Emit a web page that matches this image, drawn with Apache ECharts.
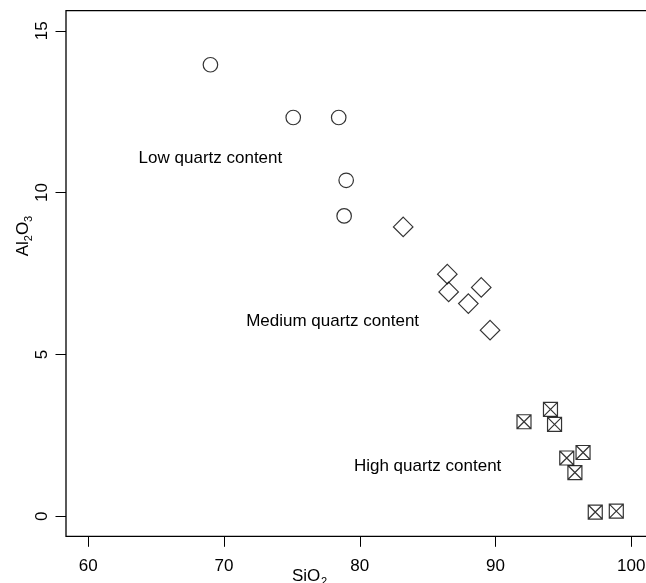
<!DOCTYPE html>
<html>
<head>
<meta charset="utf-8">
<script src="https://cdn.jsdelivr.net/npm/echarts@6/dist/echarts.min.js"></script>
<style>html,body{margin:0;padding:0;background:#fff}#c{width:646px;height:583px}</style>
</head>
<body>
<div id="c"></div>
<script>
// Low quartz content (circles)
const lowSiO2 = [69.0, 75.1, 78.45, 79.0, 78.85];
const lowAl2O3 = [13.95, 12.32, 12.32, 10.38, 9.28];
// Medium quartz content (diamonds)
const medSiO2 = [83.2, 86.45, 86.55, 88.95, 88.0, 89.6];
const medAl2O3 = [8.94, 7.48, 6.93, 7.07, 6.57, 5.75];
// High quartz content (crossed squares)
const highSiO2 = [92.1, 94.05, 94.35, 96.45, 95.25, 95.85, 97.35, 98.9];
const highAl2O3 = [2.92, 3.30, 2.84, 1.97, 1.80, 1.35, 0.13, 0.16];
// Annotations
const noteText = ["Low quartz content", "Medium quartz content", "High quartz content"];
const noteX = [69.0, 78.0, 85.0];
const noteY = [11.05, 6.02, 1.55];
// Tick labels
const xTicks = [60, 70, 80, 90, 100];
const yTicks = [0, 5, 10, 15];

const zip = (a, b) => a.map((v, i) => [v, b[i]]);
const FONT = '"Liberation Sans", Arial, Helvetica, sans-serif';
const FS = 17;

const chart = echarts.init(document.getElementById('c'), null, {renderer: 'canvas'});
const markerStyle = {color: 'rgba(0,0,0,0)', borderColor: '#000', borderWidth: 1.2};
const crossSquare = 'path://M0,0 L10,0 L10,10 L0,10 Z M0,0 L10,10 M10,0 L0,10';

chart.setOption({
  animation: false,
  backgroundColor: '#fff',
  grid: {left: 66, top: 10.7, width: 587.5, height: 525.6, show: true,
         containLabel: false, outerBoundsMode: 'none',
         borderColor: '#000', borderWidth: 1.3, backgroundColor: 'transparent'},
  xAxis: {
    type: 'value', min: 58.36, max: 101.64,
    splitLine: {show: false},
    axisLine: {show: false, onZero: false},
    axisTick: {show: true, inside: false, length: 10.5, customValues: xTicks,
               lineStyle: {color: '#000', width: 1}},
    axisLabel: {show: true, customValues: xTicks, margin: 22, color: '#000',
                fontFamily: FONT, fontSize: FS}
  },
  yAxis: {
    type: 'value', min: -0.62, max: 15.62,
    splitLine: {show: false},
    axisLine: {show: false, onZero: false},
    axisTick: {show: true, inside: false, length: 10.5, customValues: yTicks,
               lineStyle: {color: '#000', width: 1}},
    axisLabel: {show: true, customValues: yTicks, margin: 15, rotate: 90, color: '#000',
                fontFamily: FONT, fontSize: FS}
  },
  series: [
    {type: 'scatter', data: zip(lowSiO2, lowAl2O3), symbol: 'circle', symbolSize: 14.5,
     itemStyle: markerStyle, silent: true},
    {type: 'scatter', data: zip(medSiO2, medAl2O3), symbol: 'diamond', symbolSize: [19.5, 19.5],
     itemStyle: markerStyle, silent: true},
    {type: 'scatter', data: zip(highSiO2, highAl2O3), symbol: crossSquare, symbolSize: 14,
     itemStyle: markerStyle, silent: true},
    {type: 'scatter', symbol: 'circle', symbolSize: 1,
     itemStyle: {color: 'rgba(0,0,0,0)'}, silent: true,
     data: noteText.map((t, i) => ({value: [noteX[i], noteY[i]], name: t})),
     label: {show: true, position: 'inside', formatter: p => p.name, color: '#000',
             textBorderWidth: 0, textBorderColor: 'transparent', opacity: 1,
             fontFamily: FONT, fontSize: FS}}
  ],
  graphic: [
    {type: 'text', x: 292, y: 576, style: {text: 'SiO', font: FS + 'px ' + FONT, fill: '#000',
      textAlign: 'left', textVerticalAlign: 'middle'}},
    {type: 'text', x: 321, y: 582, style: {text: '2', font: '11px ' + FONT, fill: '#000',
      textAlign: 'left', textVerticalAlign: 'middle'}},
    {type: 'group', x: 23, y: 236, rotation: Math.PI / 2, children: [
      {type: 'text', x: -20.3, y: 0, style: {text: 'Al', font: FS + 'px ' + FONT, fill: '#000',
        textAlign: 'left', textVerticalAlign: 'middle'}},
      {type: 'text', x: -5.2, y: 6, style: {text: '2', font: '11px ' + FONT, fill: '#000',
        textAlign: 'left', textVerticalAlign: 'middle'}},
      {type: 'text', x: 0.9, y: 0, style: {text: 'O', font: FS + 'px ' + FONT, fill: '#000',
        textAlign: 'left', textVerticalAlign: 'middle'}},
      {type: 'text', x: 14.1, y: 6, style: {text: '3', font: '11px ' + FONT, fill: '#000',
        textAlign: 'left', textVerticalAlign: 'middle'}}
    ]}
  ]
});
</script>
</body>
</html>
